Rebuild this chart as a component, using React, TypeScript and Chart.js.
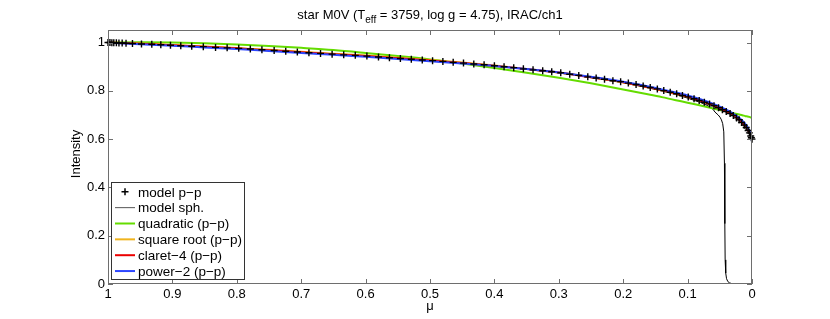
import React, { useEffect, useRef } from "react";
import { Chart, registerables } from "chart.js";

Chart.register(...registerables);

// ---------------- data ----------------
const muModel = [
  1.0, 0.997, 0.994, 0.991, 0.987, 0.983, 0.978, 0.972, 0.962, 0.948, 0.932, 0.918, 0.903, 0.887,
  0.87, 0.852, 0.833, 0.815, 0.797, 0.779, 0.761, 0.742, 0.724, 0.706, 0.688, 0.67, 0.652, 0.634,
  0.616, 0.598, 0.58, 0.563, 0.546, 0.529, 0.512, 0.496, 0.48, 0.464, 0.448, 0.432, 0.416, 0.4,
  0.385, 0.37, 0.355, 0.34, 0.325, 0.311, 0.297, 0.283, 0.269, 0.255, 0.242, 0.229, 0.216, 0.204,
  0.192, 0.18, 0.169, 0.158, 0.147, 0.137, 0.127, 0.117, 0.108, 0.099, 0.09, 0.082, 0.074, 0.066,
  0.059, 0.052, 0.046, 0.04, 0.034, 0.029, 0.024, 0.02, 0.016, 0.012, 0.009, 0.006, 0.004, 0.002,
  0.001, 0.0,
];
const intModel = [
  1.0, 1.0, 0.999, 0.999, 0.999, 0.998, 0.998, 0.997, 0.996, 0.994, 0.993, 0.991, 0.989, 0.987,
  0.985, 0.983, 0.98, 0.978, 0.976, 0.973, 0.97, 0.967, 0.964, 0.961, 0.958, 0.955, 0.952, 0.949,
  0.947, 0.944, 0.94, 0.937, 0.934, 0.931, 0.928, 0.925, 0.922, 0.918, 0.915, 0.911, 0.908, 0.904,
  0.9, 0.896, 0.891, 0.887, 0.883, 0.879, 0.875, 0.869, 0.864, 0.858, 0.853, 0.848, 0.842, 0.838,
  0.832, 0.826, 0.82, 0.814, 0.808, 0.801, 0.794, 0.788, 0.781, 0.775, 0.767, 0.76, 0.753, 0.746,
  0.738, 0.73, 0.722, 0.714, 0.706, 0.698, 0.688, 0.68, 0.669, 0.658, 0.648, 0.636, 0.626, 0.613,
  0.606, 0.6,
];

const muSph = [
  1.0, 0.9, 0.8, 0.7, 0.6, 0.5, 0.4, 0.3, 0.2, 0.15, 0.12, 0.1, 0.08, 0.07, 0.065, 0.06, 0.0575,
  0.0525, 0.0497, 0.0475, 0.0455, 0.0438, 0.0428, 0.0422, 0.0417, 0.0408, 0.0395, 0.0375, 0.035,
  0.032, 0.028, 0.0,
];
const intSph = [
  1.0, 0.989, 0.976, 0.96, 0.944, 0.926, 0.904, 0.875, 0.834, 0.806, 0.786, 0.77, 0.752, 0.74,
  0.733, 0.722, 0.712, 0.7, 0.691, 0.68, 0.664, 0.63, 0.5, 0.25, 0.1, 0.045, 0.022, 0.01, 0.005,
  0.002, 0.001, 0.0,
];

const muFit = [
  1.0, 0.95, 0.9, 0.85, 0.8, 0.75, 0.7, 0.65, 0.6, 0.55, 0.5, 0.45, 0.4, 0.35, 0.3, 0.25, 0.2, 0.17,
  0.14, 0.12, 0.1, 0.08, 0.06, 0.05, 0.04, 0.03, 0.02, 0.015, 0.01, 0.007, 0.004, 0.002, 0.001, 0.0,
];
const intQuadratic = [
  1.0, 1.001, 1.0, 0.997, 0.992, 0.986, 0.978, 0.969, 0.957, 0.944, 0.93, 0.913, 0.895, 0.875,
  0.854, 0.831, 0.806, 0.79, 0.774, 0.762, 0.751, 0.739, 0.727, 0.721, 0.715, 0.708, 0.702, 0.699,
  0.695, 0.694, 0.692, 0.69, 0.69, 0.689,
];
const intSqrt = [
  1.0, 0.996, 0.99, 0.984, 0.977, 0.97, 0.962, 0.954, 0.946, 0.937, 0.928, 0.917, 0.905, 0.891,
  0.876, 0.857, 0.835, 0.82, 0.802, 0.789, 0.775, 0.759, 0.74, 0.729, 0.716, 0.701, 0.682, 0.67,
  0.655, 0.645, 0.632, 0.62, 0.613, 0.603,
];
const intClaret = [
  1.0, 0.995, 0.989, 0.983, 0.976, 0.968, 0.96, 0.952, 0.944, 0.935, 0.926, 0.915, 0.904, 0.89,
  0.876, 0.856, 0.836, 0.82, 0.803, 0.79, 0.776, 0.759, 0.739, 0.728, 0.714, 0.7, 0.68, 0.666,
  0.652, 0.64, 0.626, 0.615, 0.61, 0.606,
];
const intPower2 = [
  1.0, 0.993, 0.987, 0.98, 0.973, 0.965, 0.957, 0.949, 0.941, 0.932, 0.923, 0.913, 0.903, 0.89,
  0.876, 0.858, 0.838, 0.823, 0.806, 0.794, 0.781, 0.765, 0.746, 0.735, 0.722, 0.707, 0.688, 0.676,
  0.661, 0.65, 0.635, 0.618, 0.607, 0.59,
];

const xTicks = [1, 0.9, 0.8, 0.7, 0.6, 0.5, 0.4, 0.3, 0.2, 0.1, 0];
const yTicks = [0, 0.2, 0.4, 0.6, 0.8, 1];

const seriesLabels = [
  "model p\u2212p",
  "model sph.",
  "quadratic (p\u2212p)",
  "square root (p\u2212p)",
  "claret\u22124 (p\u2212p)",
  "power\u22122 (p\u2212p)",
];
const seriesColors = [
  "#000000",
  "#555555",
  "rgb(100,220,0)",
  "rgb(240,180,30)",
  "rgb(235,0,0)",
  "rgb(45,70,255)",
];

const titleMain = "star M0V (T";
const titleSub = "eff";
const titleRest = " = 3759, log g = 4.75), IRAC/ch1";
const xTitle = "\u03bc";
const yTitle = "Intensity";

const FONT = "Liberation Sans, Arial, Helvetica, sans-serif";

const pts = (xs: number[], ys: number[]) => xs.map((x, i) => ({ x, y: ys[i] }));

const decorPlugin = {
  id: "decor",
  afterDraw(chart: any) {
    const ctx = chart.ctx as CanvasRenderingContext2D;
    const { left, right, top, bottom } = chart.chartArea;
    const xs = chart.scales.x;
    const ys = chart.scales.y;
    ctx.save();
    // box
    ctx.strokeStyle = "#6e6e6e";
    ctx.lineWidth = 1;
    ctx.strokeRect(left + 0.5, top + 0.5, right - left - 1, bottom - top - 1);
    // tick marks inside
    const tl = 5;
    ctx.beginPath();
    xTicks.forEach((v) => {
      const px = Math.round(xs.getPixelForValue(v)) + 0.5;
      ctx.moveTo(px, bottom);
      ctx.lineTo(px, bottom - tl);
      ctx.moveTo(px, top);
      ctx.lineTo(px, top + tl);
    });
    yTicks.forEach((v) => {
      const py = Math.round(ys.getPixelForValue(v)) + 0.5;
      ctx.moveTo(left, py);
      ctx.lineTo(left + tl, py);
      ctx.moveTo(right, py);
      ctx.lineTo(right - tl, py);
    });
    ctx.stroke();

    // title
    ctx.fillStyle = "#000";
    ctx.textBaseline = "alphabetic";
    ctx.textAlign = "left";
    const big = `13px ${FONT}`;
    const small = `10px ${FONT}`;
    ctx.font = big;
    const w1 = ctx.measureText(titleMain).width;
    const w3 = ctx.measureText(titleRest).width;
    ctx.font = small;
    const w2 = ctx.measureText(titleSub).width;
    const cx = (left + right) / 2;
    let tx = cx - (w1 + w2 + w3) / 2;
    const ty = 19;
    ctx.font = big;
    ctx.fillText(titleMain, tx, ty);
    tx += w1;
    ctx.font = small;
    ctx.fillText(titleSub, tx, ty + 4);
    tx += w2;
    ctx.font = big;
    ctx.fillText(titleRest, tx, ty);

    // axis titles
    ctx.textAlign = "center";
    ctx.textBaseline = "middle";
    ctx.font = big;
    ctx.fillText(xTitle, cx, 306);
    ctx.save();
    ctx.translate(76, (top + bottom) / 2 - 3);
    ctx.rotate(-Math.PI / 2);
    ctx.fillText(yTitle, 0, 0);
    ctx.restore();

    // legend
    const lx = 111.5, ly = 182.5, lw = 133, lh = 97;
    ctx.fillStyle = "#fff";
    ctx.fillRect(lx, ly, lw, lh);
    ctx.strokeStyle = "#333";
    ctx.lineWidth = 1;
    ctx.strokeRect(lx, ly, lw, lh);
    ctx.textAlign = "left";
    ctx.textBaseline = "middle";
    seriesLabels.forEach((lab, i) => {
      const yy = 191.8 + i * 15.85;
      if (i === 0) {
        ctx.strokeStyle = "#000";
        ctx.lineWidth = 1.5;
        ctx.beginPath();
        ctx.moveTo(125, yy - 3.5);
        ctx.lineTo(125, yy + 3.5);
        ctx.moveTo(121.5, yy);
        ctx.lineTo(128.5, yy);
        ctx.stroke();
      } else {
        ctx.strokeStyle = seriesColors[i];
        ctx.lineWidth = i === 1 ? 1 : 2;
        ctx.beginPath();
        ctx.moveTo(115, yy);
        ctx.lineTo(135, yy);
        ctx.stroke();
      }
      ctx.fillStyle = "#000";
      ctx.font = `13.5px ${FONT}`;
      ctx.fillText(lab, 138, yy + 1);
    });
    ctx.restore();
  },
};

export default function App() {
  const ref = useRef<HTMLCanvasElement>(null);
  useEffect(() => {
    if (!ref.current) return;
    const lineDs = (i: number, ys: number[], order: number, width: number) => ({
      label: seriesLabels[i],
      data: pts(muFit, ys),
      showLine: true,
      borderColor: seriesColors[i],
      backgroundColor: seriesColors[i],
      borderWidth: width,
      pointRadius: 0,
      cubicInterpolationMode: "monotone" as const,
      order,
    });
    const chart = new Chart(ref.current, {
      type: "scatter",
      data: {
        datasets: [
          {
            label: seriesLabels[0],
            data: pts(muModel, intModel),
            showLine: false,
            pointStyle: "cross",
            pointRadius: 3.5,
            pointBorderWidth: 1.4,
            borderColor: "#000",
            backgroundColor: "#000",
            order: 0,
            clip: false as any,
          },
          {
            label: seriesLabels[1],
            data: pts(muSph, intSph),
            showLine: true,
            borderColor: "#000",
            backgroundColor: "#000",
            borderWidth: 1,
            pointRadius: 0,
            tension: 0,
            order: 5,
          },
          lineDs(2, intQuadratic, 4, 2),
          lineDs(3, intSqrt, 3, 2),
          lineDs(4, intClaret, 2, 2),
          lineDs(5, intPower2, 1, 2),
        ] as any,
      },
      options: {
        responsive: false,
        animation: false,
        layout: { padding: { top: 30, right: 78, left: 0, bottom: 0 } },
        plugins: {
          legend: { display: false },
          title: { display: false },
          tooltip: { enabled: false },
        },
        scales: {
          x: {
            type: "linear",
            reverse: true,
            min: 0,
            max: 1,
            afterBuildTicks: (s: any) => {
              s.ticks = xTicks.map((v) => ({ value: v }));
            },
            afterFit: (s: any) => {
              s.height = 35;
            },
            ticks: {
              color: "#000",
              font: { family: FONT, size: 13 },
              padding: 3,
              maxRotation: 0,
              autoSkip: false,
              callback: (v: any) => String(v),
            },
            grid: { display: false, drawTicks: false },
            border: { display: false },
          },
          y: {
            type: "linear",
            min: 0,
            max: 1.052,
            afterBuildTicks: (s: any) => {
              s.ticks = yTicks.map((v) => ({ value: v }));
            },
            afterFit: (s: any) => {
              s.width = 108;
            },
            ticks: {
              color: "#000",
              font: { family: FONT, size: 13 },
              padding: 3,
              autoSkip: false,
              callback: (v: any) => String(v),
            },
            grid: { display: false, drawTicks: false },
            border: { display: false },
          },
        },
      },
      plugins: [decorPlugin],
    });
    return () => chart.destroy();
  }, []);
  return (
    <div style={{ position: "absolute", left: 0, top: 0, width: 830, height: 319, background: "#fff" }}>
      <canvas ref={ref} width={830} height={319} />
    </div>
  );
}
